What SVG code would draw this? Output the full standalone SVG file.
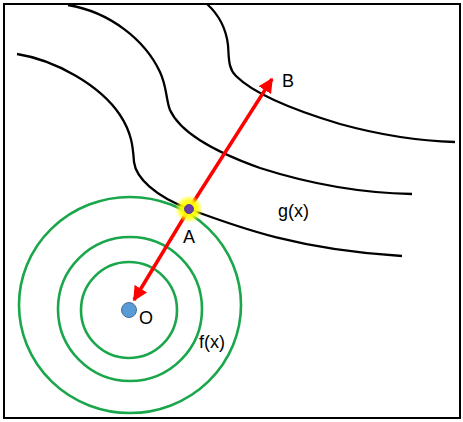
<svg xmlns="http://www.w3.org/2000/svg" width="463" height="422" viewBox="0 0 463 422">
<defs>
<style>
.lvl{fill:none;stroke:#000;stroke-width:2.3}
.ring{fill:none;stroke:#1aa64a;stroke-width:2.6}
.vec{stroke:#f00;stroke-width:3.5;fill:none}
.lbl{font-family:"Liberation Sans",Arial,sans-serif;font-size:18px;fill:#000}
</style>
<marker id="ah" viewBox="0 0 10 10" refX="9" refY="5" markerWidth="4.2" markerHeight="4.2" orient="auto" markerUnits="strokeWidth">
<path d="M0,0 L10,5 L0,10 Z" fill="#f00"/>
</marker>
<radialGradient id="glow">
<stop offset="0" stop-color="#ffff00" stop-opacity="1"/>
<stop offset="0.6" stop-color="#ffff00" stop-opacity="0.9"/>
<stop offset="1" stop-color="#ffff00" stop-opacity="0"/>
</radialGradient>
</defs>
<rect x="0" y="0" width="463" height="422" fill="#fff"/>
<rect x="4" y="4" width="456" height="414" fill="none" stroke="#000" stroke-width="2"/>
<g id="g_curves">
<path class="lvl" d="M207,4 C218,14 226,28 228,45 C229,58 228,68 236,76 C255,95 300,112 340,124 C380,135 420,141 455,142"/>
<path class="lvl" d="M68,5 C110,12 145,40 160,72 C167,87 166,100 170,110 C180,132 215,152 260,168 C310,184 360,193 412,194"/>
<path class="lvl" d="M17,54 C55,60 100,85 120,115 C132,133 133,148 134,162 C136,178 155,196 189,209 C240,228 300,250 402,256"/>
</g>
<g id="f_rings">
<circle class="ring" cx="129" cy="310" r="48"/>
<circle class="ring" cx="130" cy="309" r="72"/>
<ellipse class="ring" cx="130" cy="305" rx="111" ry="108"/>
</g>
<g id="connectors">
<line class="vec" x1="189" y1="209" x2="272" y2="79" marker-end="url(#ah)"/>
<line class="vec" x1="189" y1="209" x2="134" y2="300" marker-end="url(#ah)"/>
</g>
<g id="A">
<circle cx="189" cy="209" r="14" fill="url(#glow)"/>
<circle cx="189" cy="209" r="4.5" fill="#6a3da8" stroke="#4a2a8a" stroke-width="0.8"/>
<text class="lbl" x="183" y="243">A</text>
</g>
<g id="B">
<text class="lbl" x="282" y="87">B</text>
</g>
<g id="O">
<circle cx="129" cy="310" r="7.5" fill="#5b9bd5" stroke="#41719c" stroke-width="1"/>
<text class="lbl" x="139" y="324">O</text>
</g>
<text class="lbl" x="278" y="217">g(x)</text>
<text class="lbl" x="199" y="348">f(x)</text>
</svg>
